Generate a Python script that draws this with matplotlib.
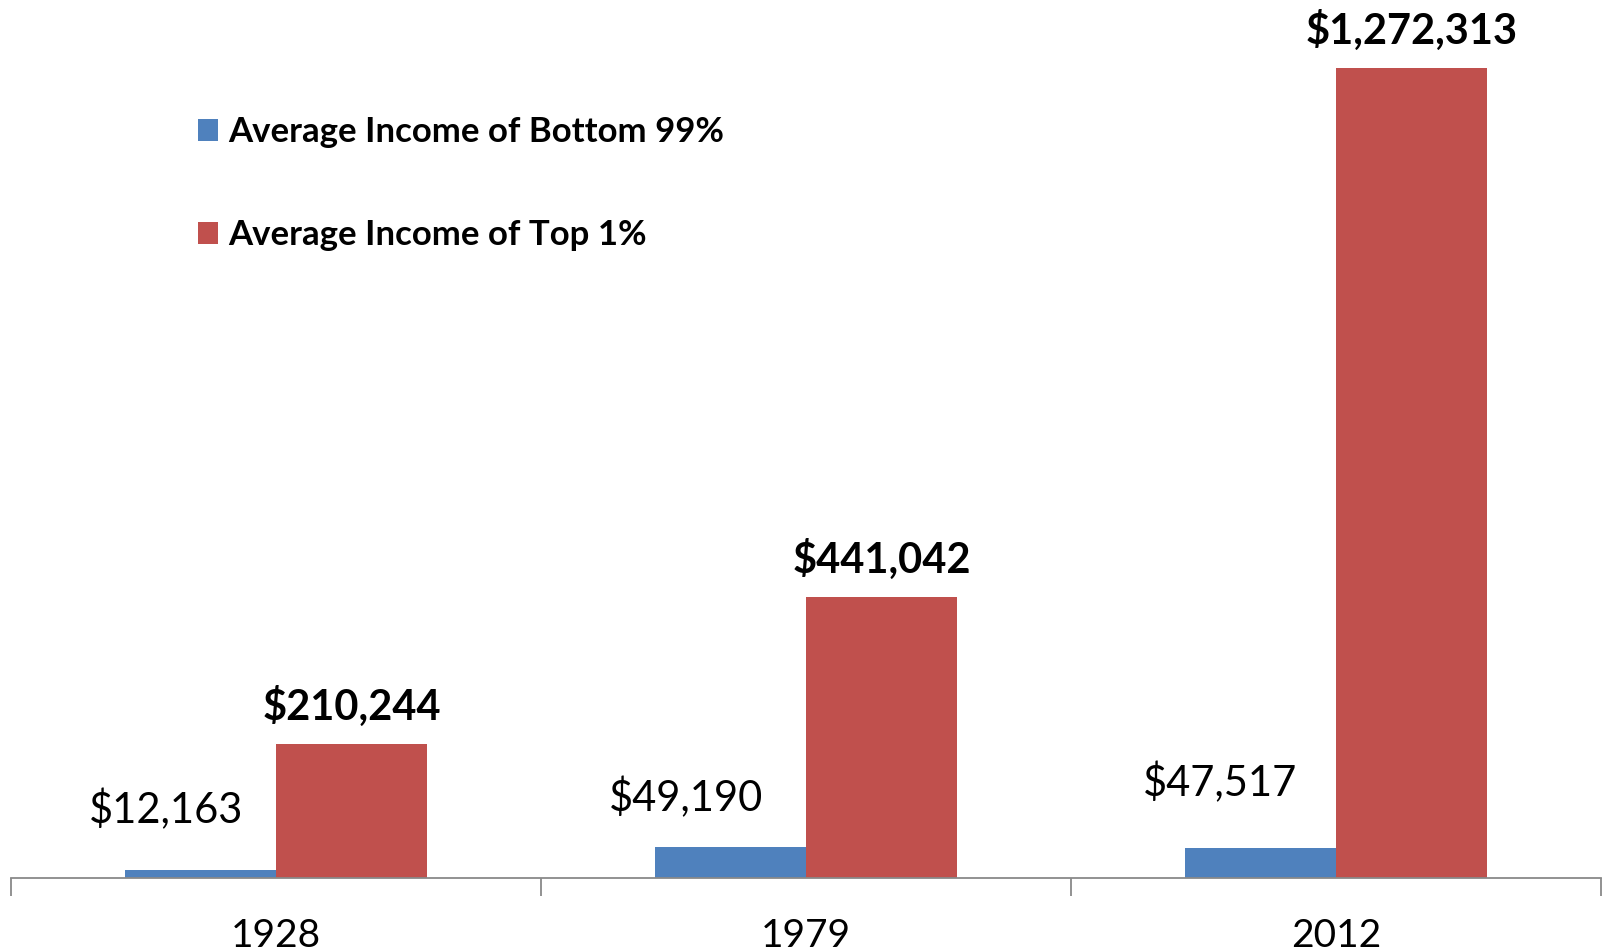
import matplotlib
matplotlib.use("Agg")
import matplotlib.pyplot as plt
import numpy as np

years = ["1928", "1979", "2012"]
bottom_99 = [12163, 49190, 47517]
top_1 = [210244, 441042, 1272313]
series_names = ["Average Income of Bottom 99%", "Average Income of Top 1%"]

BLUE = "#4F81BD"
RED = "#C0504D"
AXIS_GRAY = "#898989"

plt.rcParams["font.family"] = ["Lato", "DejaVu Sans"]

fig = plt.figure(figsize=(16.1, 9.52), dpi=100)
ax = fig.add_axes([0.007, 0.0777, 0.9874, 0.9223])

x = np.arange(len(years))
width = 0.285
bars_b = ax.bar(x - width / 2, bottom_99, width, color=BLUE, label=series_names[0])
bars_t = ax.bar(x + width / 2, top_1, width, color=RED, label=series_names[1])

ax.set_xlim(-0.5, len(years) - 0.5)
ax.set_ylim(0, 1379000)

# labels above bars; offsets (pixels) as placed by hand in the original
blue_offsets = [(-35, 47), (-45, 36), (-40, 52)]
for rect, val, (dx, dy) in zip(bars_b, bottom_99, blue_offsets):
    ax.annotate(f"${val:,}", (rect.get_x() + rect.get_width() / 2, val),
                xytext=(dx, dy), textcoords="offset pixels",
                ha="center", va="baseline", fontsize=30)
for rect, val in zip(bars_t, top_1):
    ax.annotate(f"${val:,}", (rect.get_x() + rect.get_width() / 2, val),
                xytext=(0, 24), textcoords="offset pixels",
                ha="center", va="baseline", fontsize=30, fontweight="bold",
                annotation_clip=False)

for side in ["top", "right", "left"]:
    ax.spines[side].set_visible(False)
ax.spines["bottom"].set_color(AXIS_GRAY)
ax.spines["bottom"].set_linewidth(1.3)
ax.set_yticks([])

ax.set_xticks(x)
ax.set_xticklabels(years, fontsize=28)
ax.tick_params(axis="x", which="major", length=0, pad=29)
ax.set_xticks(np.arange(len(years) + 1) - 0.5, minor=True)
ax.tick_params(axis="x", which="minor", length=13, width=1.3, color=AXIS_GRAY)

leg = ax.legend(loc="upper left", bbox_to_anchor=(0.0975, 0.903), frameon=False,
                prop={"size": 25, "weight": "bold"}, handlelength=0.59,
                handleheight=0.59, handletextpad=0.3, labelspacing=2.03)

fig.savefig("out.png", dpi=100)
